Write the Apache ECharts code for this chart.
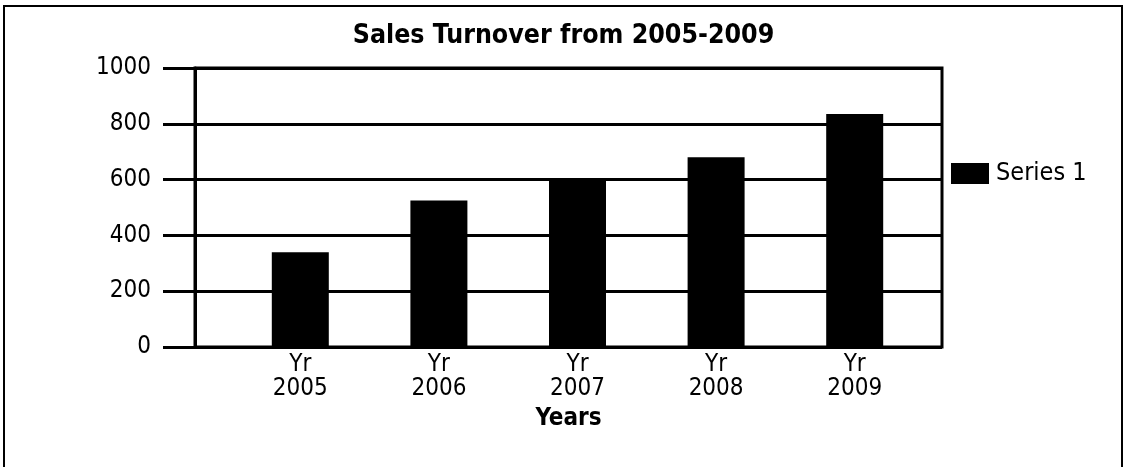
<!DOCTYPE html>
<html>
<head>
<meta charset="utf-8">
<script src="https://cdn.jsdelivr.net/npm/echarts@6/dist/echarts.min.js"></script>
<style>
  html, body { margin: 0; padding: 0; background: #fff; }
  #main { width: 1127px; height: 467px; }
</style>
</head>
<body>
<div id="main"></div>
<script>
const categories = ['Yr\n2005', 'Yr\n2006', 'Yr\n2007', 'Yr\n2008', 'Yr\n2009'];
const series1 = [340, 525, 600, 680, 835];
const yTicks = { min: 0, max: 1000, interval: 200 };

const font = '"DejaVu Sans Condensed", "DejaVu Sans", sans-serif';
const chart = echarts.init(document.getElementById('main'));

chart.setOption({
  animation: false,
  backgroundColor: '#fff',
  textStyle: { fontFamily: font, color: '#000' },
  title: {
    text: 'Sales Turnover from 2005-2009',
    left: 'center',
    top: 18,
    textStyle: { fontFamily: font, fontSize: 26.5, fontWeight: 'bold', color: '#000' }
  },
  legend: {
    data: ['Series 1'],
    left: 951,
    top: 161,
    padding: 0,
    orient: 'vertical',
    icon: 'rect',
    itemWidth: 38,
    itemHeight: 21,
    itemGap: 8,
    textStyle: { fontFamily: font, fontSize: 25, color: '#000', padding: [0, 0, 0, 2] }
  },
  graphic: [{
    type: 'rect',
    shape: { x: 4, y: 6, width: 1118, height: 470 },
    style: { fill: 'none', stroke: '#000', lineWidth: 2 },
    silent: true
  }],
  grid: [
    { left: 195, right: 185, top: 68, bottom: 120, show: true, borderColor: '#000', borderWidth: 3 },
    { left: 231, right: 203, top: 68, bottom: 120 }
  ],
  xAxis: [
    {
      gridIndex: 0,
      type: 'category',
      data: categories,
      name: 'Years',
      nameLocation: 'middle',
      nameGap: 60,
      nameTextStyle: { fontFamily: font, fontSize: 24, fontWeight: 'bold', color: '#000' },
      axisLine: { show: false },
      axisTick: { show: false },
      axisLabel: { show: false },
      splitLine: { show: false }
    },
    {
      gridIndex: 1,
      type: 'category',
      data: categories,
      axisLine: { show: false },
      axisTick: { show: false },
      axisLabel: { fontFamily: font, fontSize: 24, lineHeight: 24, color: '#000', margin: 6 },
      splitLine: { show: false }
    }
  ],
  yAxis: [
    {
      gridIndex: 0,
      type: 'value',
      min: yTicks.min,
      max: yTicks.max,
      interval: yTicks.interval,
      axisLine: { show: true, lineStyle: { color: '#000', width: 3 } },
      axisTick: { show: true, length: 32, lineStyle: { color: '#000', width: 3 } },
      axisLabel: { fontFamily: font, fontSize: 24, color: '#000', margin: 44, formatter: v => String(v) },
      splitLine: { show: true, lineStyle: { color: '#000', width: 3 } }
    },
    {
      gridIndex: 1,
      type: 'value',
      min: yTicks.min,
      max: yTicks.max,
      interval: yTicks.interval,
      show: false
    }
  ],
  series: [
    {
      name: 'Series 1',
      type: 'bar',
      xAxisIndex: 1,
      yAxisIndex: 1,
      barWidth: 57,
      itemStyle: { color: '#000' },
      data: series1
    }
  ]
});
</script>
</body>
</html>
